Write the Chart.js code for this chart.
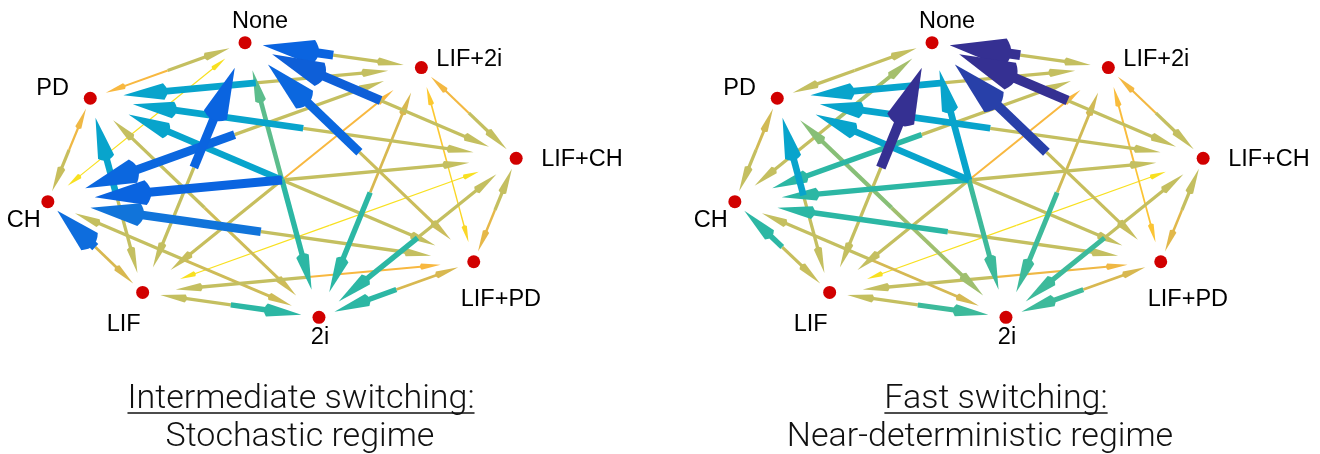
<!DOCTYPE html>
<html>
<head>
<meta charset="utf-8">
<script src="https://cdn.jsdelivr.net/npm/chart.js@4.4.1/dist/chart.umd.min.js"></script>
<style>
  html, body { margin: 0; padding: 0; background: #ffffff; }
  #wrap { position: relative; width: 1320px; height: 454px; overflow: hidden; background: #ffffff; }
  #wrap canvas { position: absolute; top: 0; }
</style>
</head>
<body>
<div id="wrap">
  <canvas id="panelA" width="660" height="454" style="left:0px"></canvas>
  <canvas id="panelB" width="660" height="454" style="left:660px"></canvas>
</div>
<script>
// Cell states of the switching network
const states = ['None', 'LIF+2i', 'LIF+CH', 'LIF+PD', '2i', 'LIF', 'CH', 'PD'];

// Circular layout of the states (layout units)
const layoutX = [-0.156, 0.588, 0.988, 0.809, 0.156, -0.588, -0.988, -0.809];
const layoutY = [0.988, 0.809, 0.156, -0.588, -0.988, -0.809, -0.156, 0.588];

// Relative transition flux, row = from, column = to (0 = weakest, 1 = strongest)
//                         None  LIF+2i LIF+CH LIF+PD  2i    LIF    CH     PD
const fluxIntermediate = [
  /* None   */ [0.00, 0.28, 0.28, 0.26, 0.50, 0.28, 0.06, 0.15],
  /* LIF+2i */ [0.87, 0.00, 0.28, 0.08, 0.50, 0.27, 0.86, 0.63],
  /* LIF+CH */ [0.88, 0.16, 0.00, 0.19, 0.50, 0.06, 0.87, 0.63],
  /* LIF+PD */ [0.86, 0.11, 0.28, 0.00, 0.50, 0.28, 0.82, 0.63],
  /* 2i     */ [0.42, 0.22, 0.28, 0.22, 0.00, 0.28, 0.28, 0.28],
  /* LIF    */ [0.87, 0.15, 0.06, 0.15, 0.50, 0.00, 0.84, 0.63],
  /* CH     */ [0.06, 0.28, 0.28, 0.28, 0.25, 0.22, 0.00, 0.17],
  /* PD     */ [0.28, 0.28, 0.28, 0.28, 0.25, 0.28, 0.27, 0.00]
];
const fluxFast = [
  /* None   */ [0.00, 0.28, 0.28, 0.27, 0.46, 0.28, 0.28, 0.28],
  /* LIF+2i */ [0.97, 0.00, 0.28, 0.12, 0.46, 0.28, 0.50, 0.63],
  /* LIF+CH */ [0.97, 0.16, 0.00, 0.20, 0.46, 0.06, 0.50, 0.63],
  /* LIF+PD */ [0.94, 0.14, 0.28, 0.00, 0.46, 0.28, 0.50, 0.63],
  /* 2i     */ [0.63, 0.24, 0.28, 0.22, 0.00, 0.28, 0.28, 0.38],
  /* LIF    */ [0.97, 0.15, 0.06, 0.17, 0.46, 0.00, 0.50, 0.63],
  /* CH     */ [0.33, 0.28, 0.28, 0.28, 0.23, 0.27, 0.00, 0.24],
  /* PD     */ [0.28, 0.28, 0.28, 0.28, 0.34, 0.28, 0.28, 0.00]
];

const titlesIntermediate = ['Intermediate switching:', 'Stochastic regime'];
const titlesFast = ['Fast switching:', 'Near-deterministic regime'];

// Colour ramp: strong flux = deep blue, weak flux = yellow
const ramp = [
  [0.00, 53, 42, 135], [0.03, 53, 48, 146], [0.13, 10, 100, 224], [0.20, 20, 122, 216],
  [0.37, 8, 164, 204], [0.50, 44, 183, 164], [0.56, 70, 188, 150], [0.62, 135, 191, 119],
  [0.72, 196, 191, 96], [0.78, 216, 184, 80], [0.85, 248, 184, 64], [0.89, 252, 200, 48],
  [0.94, 248, 224, 32], [1.00, 249, 251, 14]
];
function rampColor(t) {
  t = Math.max(0, Math.min(1, t));
  for (let k = 1; k < ramp.length; k++) {
    if (t <= ramp[k][0]) {
      const a = ramp[k - 1], b = ramp[k];
      const f = (t - a[0]) / (b[0] - a[0]);
      const c = [1, 2, 3].map(i => Math.round(a[i] + f * (b[i] - a[i])));
      return `rgb(${c[0]},${c[1]},${c[2]})`;
    }
  }
  return 'rgb(249,251,14)';
}

// Label placement around each node: [align, dx, baseline dy]
const labelPlace = [
  ['center', 15, -15], ['left', 15, -2], ['left', 25, 8], ['left', -13, 44],
  ['center', 1, 27], ['left', -36, 39], ['left', -41, 25], ['left', -54, -3]
];

function makeGraphPlugin(flux, titles, titleCenters) {
  return {
    id: 'transitionGraph',
    beforeDatasetsDraw(chart) {
      const { ctx, scales: { x, y } } = chart;
      const edges = [];
      for (let i = 0; i < states.length; i++) {
        for (let j = 0; j < states.length; j++) {
          if (i !== j) edges.push({ i, j, w: flux[i][j] });
        }
      }
      edges.sort((a, b) => a.w - b.w);
      ctx.save();
      for (const e of edges) {
        const sx = x.getPixelForValue(layoutX[e.i]), sy = y.getPixelForValue(layoutY[e.i]);
        const tx = x.getPixelForValue(layoutX[e.j]), ty = y.getPixelForValue(layoutY[e.j]);
        // each direction is drawn on the half of the edge nearest its target
        const mx = sx + 0.5 * (tx - sx), my = sy + 0.5 * (ty - sy);
        const px = sx + 0.9 * (tx - sx), py = sy + 0.9 * (ty - sy);
        const dx = px - mx, dy = py - my, len = Math.hypot(dx, dy);
        const ux = dx / len, uy = dy / len, nx = -uy, ny = ux;
        const lw = 0.6 + 9.6 * e.w;
        const L = Math.min(10 + 4.6 * lw, len * 0.85);
        const hw = 2.2 + 0.25 * lw + 0.1 * lw * lw;
        const bx = px - ux * L, by = py - uy * L;
        const col = rampColor(1 - e.w);
        ctx.strokeStyle = col;
        ctx.fillStyle = col;
        ctx.lineWidth = lw;
        ctx.lineCap = 'butt';
        ctx.beginPath();
        ctx.moveTo(mx, my);
        ctx.lineTo(bx + ux * 2, by + uy * 2);
        ctx.stroke();
        ctx.beginPath();
        ctx.moveTo(px, py);
        ctx.lineTo(bx + nx * hw, by + ny * hw);
        ctx.quadraticCurveTo(bx - ux * hw * 0.9, by - uy * hw * 0.9, bx - nx * hw, by - ny * hw);
        ctx.closePath();
        ctx.fill();
      }
      ctx.restore();
    },
    afterDraw(chart) {
      const { ctx, scales: { x, y } } = chart;
      ctx.save();
      ctx.fillStyle = '#000000';
      ctx.font = '23.5px "Liberation Sans", Arial, Helvetica, sans-serif';
      ctx.textBaseline = 'alphabetic';
      states.forEach((name, k) => {
        const [align, dx, dy] = labelPlace[k];
        ctx.textAlign = align;
        ctx.fillText(name, x.getPixelForValue(layoutX[k]) + dx, y.getPixelForValue(layoutY[k]) + dy);
      });
      // panel caption: underlined heading and regime name
      ctx.font = '300 34px Roboto, "Liberation Sans", sans-serif';
      ctx.textAlign = 'center';
      ctx.fillStyle = '#111111';
      ctx.fillText(titles[0], titleCenters[0], 408);
      const w = ctx.measureText(titles[0]).width;
      ctx.strokeStyle = '#111111';
      ctx.lineWidth = 1.5;
      ctx.beginPath();
      ctx.moveTo(titleCenters[0] - w / 2, 413);
      ctx.lineTo(titleCenters[0] + w / 2, 413);
      ctx.stroke();
      ctx.fillText(titles[1], titleCenters[1], 446);
      ctx.restore();
    }
  };
}

function buildPanel(canvasId, flux, titles, xMin, xMax, titleCenters) {
  const points = states.map((s, k) => ({ x: layoutX[k], y: layoutY[k] }));
  return new Chart(document.getElementById(canvasId), {
    type: 'scatter',
    data: {
      datasets: [{
        data: points,
        pointRadius: 6.5,
        pointHoverRadius: 6.5,
        backgroundColor: '#d10000',
        borderWidth: 0,
        clip: false
      }]
    },
    options: {
      responsive: false,
      devicePixelRatio: 1,
      animation: false,
      events: [],
      layout: { padding: 0, autoPadding: false },
      scales: {
        x: { type: 'linear', min: xMin, max: xMax, display: false },
        y: { type: 'linear', min: -1.9712, max: 1.2950, display: false }
      },
      plugins: { legend: { display: false }, tooltip: { enabled: false } }
    },
    plugins: [makeGraphPlugin(flux, titles, titleCenters)]
  });
}

buildPanel('panelA', fluxIntermediate, titlesIntermediate, -1.1899, 1.5949, [301, 300]);
buildPanel('panelB', fluxFast, titlesFast, -1.3038, 1.4810, [336, 320]);
</script>
</body>
</html>
